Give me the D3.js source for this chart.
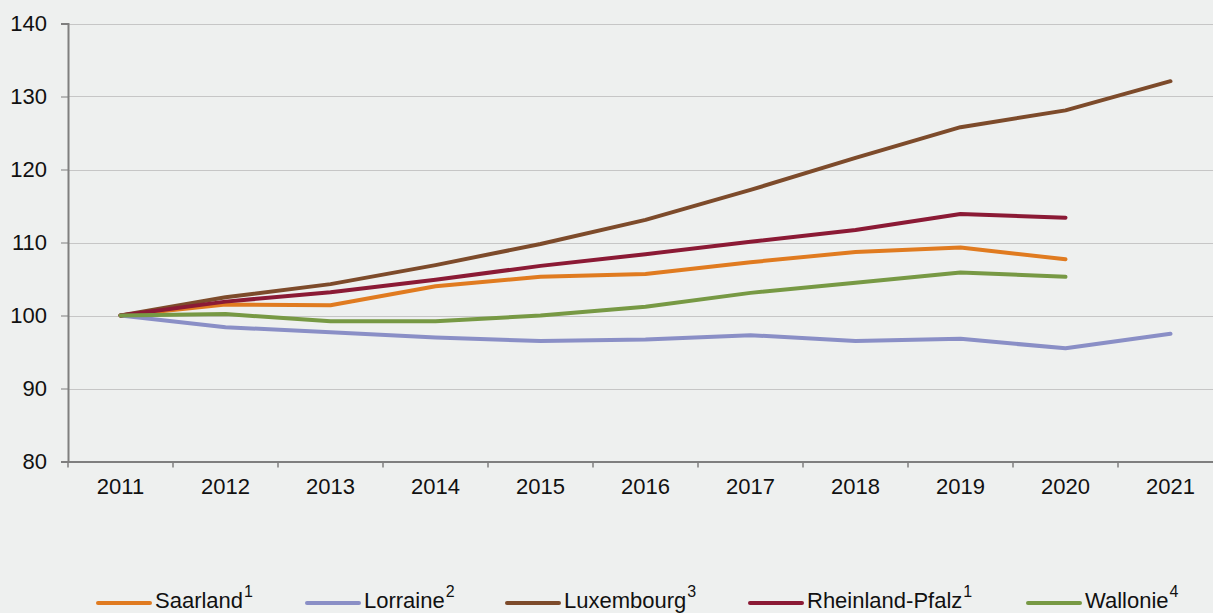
<!DOCTYPE html>
<html>
<head>
<meta charset="utf-8">
<script src="https://cdn.jsdelivr.net/npm/d3@7"></script>
<style>
  body { margin: 0; background: #eef0ef; }
  svg { display: block; font-family: "Liberation Sans", Arial, sans-serif; }
</style>
</head>
<body>
<div id="chart"></div>
<script>
// data
const years = ["2011","2012","2013","2014","2015","2016","2017","2018","2019","2020","2021"];
const yTicks = [80, 90, 100, 110, 120, 130, 140];

const saarland   = [100, 101.5, 101.4, 104.0, 105.3, 105.7, 107.3, 108.7, 109.3, 107.7, null];
const lorraine   = [100, 98.4, 97.7, 97.0, 96.5, 96.7, 97.3, 96.5, 96.8, 95.5, 97.5];
const luxembourg = [100, 102.5, 104.3, 106.9, 109.8, 113.1, 117.2, 121.6, 125.8, 128.1, 132.1];
const rheinland  = [100, 101.9, 103.2, 104.9, 106.8, 108.4, 110.1, 111.7, 113.9, 113.4, null];
const wallonie   = [100, 100.2, 99.2, 99.2, 100.0, 101.2, 103.1, 104.5, 105.9, 105.3, null];

const series = [
  {name: "Saarland", sup: "1", values: saarland, color: "#e07b20"},
  {name: "Lorraine", sup: "2", values: lorraine, color: "#8a8fc6"},
  {name: "Luxembourg", sup: "3", values: luxembourg, color: "#7d4b2b"},
  {name: "Rheinland-Pfalz", sup: "1", values: rheinland, color: "#8b1a35"},
  {name: "Wallonie", sup: "4", values: wallonie, color: "#779944"}
];

const width = 1213, height = 613;
const margin = {top: 23.5, left: 68, bottom: 151.5};
const plotRight = 1223; // chart runs past the right edge in the reference

const svg = d3.select("#chart").append("svg")
    .attr("width", width)
    .attr("height", height);

const x = d3.scaleBand()
    .domain(years)
    .range([margin.left, plotRight]);

const y = d3.scaleLinear()
    .domain([80, 140])
    .range([height - margin.bottom, margin.top]);

// gridlines
svg.append("g")
    .selectAll("line")
    .data(yTicks.filter(d => d > 80))
    .enter().append("line")
    .attr("x1", margin.left)
    .attr("x2", width)
    .attr("y1", d => Math.round(y(d)) + 0.5)
    .attr("y2", d => Math.round(y(d)) + 0.5)
    .attr("stroke", "#c6c6c6")
    .attr("stroke-width", 1);

// y axis
const yAxis = svg.append("g")
    .attr("transform", "translate(" + margin.left + ",0)")
    .call(d3.axisLeft(y).tickValues(yTicks).tickSize(7).tickPadding(14));
yAxis.select(".domain").attr("stroke", "#7f7f7f").attr("stroke-width", 2);
yAxis.selectAll(".tick line").attr("stroke", "#7f7f7f").attr("stroke-width", 1);
yAxis.selectAll("text").attr("font-size", 22).attr("fill", "#111")
    .attr("font-family", "Liberation Sans, Arial, sans-serif");

// x axis
const xAxis = svg.append("g")
    .attr("transform", "translate(0," + y(80) + ")")
    .call(d3.axisBottom(x).tickSize(0).tickPadding(17));
xAxis.select(".domain").attr("stroke", "#7f7f7f").attr("stroke-width", 2);
xAxis.selectAll("text").attr("font-size", 22).attr("fill", "#111")
    .attr("font-family", "Liberation Sans, Arial, sans-serif");

// tick marks between categories
svg.append("g")
    .selectAll("line")
    .data(years.map(d => x(d)).concat([plotRight]))
    .enter().append("line")
    .attr("x1", d => d)
    .attr("x2", d => d)
    .attr("y1", y(80))
    .attr("y2", y(80) + 6)
    .attr("stroke", "#7f7f7f")
    .attr("stroke-width", 1.5);

// lines
const line = d3.line()
    .defined(d => d != null)
    .x((d, i) => x(years[i]) + x.bandwidth() / 2)
    .y(d => y(d));

svg.append("g")
    .selectAll("path")
    .data(series)
    .enter().append("path")
    .attr("d", d => line(d.values))
    .attr("fill", "none")
    .attr("stroke", d => d.color)
    .attr("stroke-width", 4)
    .attr("stroke-linejoin", "round")
    .attr("stroke-linecap", "round");

// legend
const legendX = [97, 306, 506, 749, 1027];
const legend = svg.append("g")
    .selectAll("g")
    .data(series)
    .enter().append("g")
    .attr("transform", (d, i) => "translate(" + legendX[i] + ",603)");

legend.append("line")
    .attr("x1", 1)
    .attr("x2", 53)
    .attr("stroke", d => d.color)
    .attr("stroke-width", 4)
    .attr("stroke-linecap", "round");

const ltext = legend.append("text")
    .attr("x", 58)
    .attr("y", 5)
    .attr("font-size", 22)
    .attr("fill", "#111");
ltext.append("tspan").text(d => d.name);
ltext.append("tspan")
    .attr("dx", 1)
    .attr("dy", -11)
    .attr("font-size", 16)
    .text(d => d.sup);
</script>
</body>
</html>
